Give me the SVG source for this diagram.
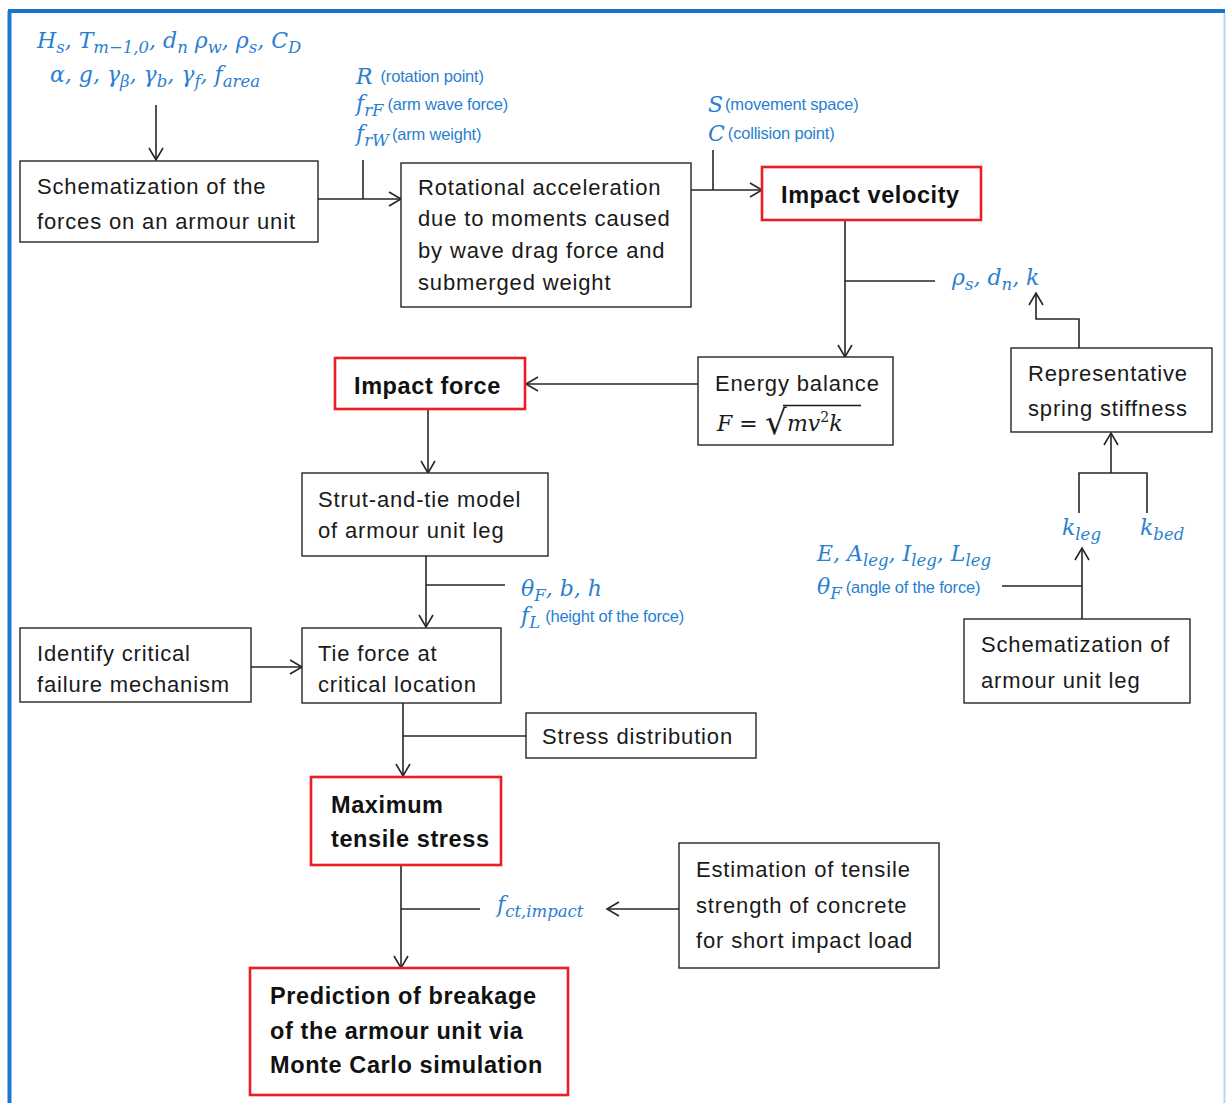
<svg xmlns="http://www.w3.org/2000/svg" width="1226" height="1103" viewBox="0 0 1226 1103">
  <defs>
    <marker id="arr" markerUnits="userSpaceOnUse" markerWidth="16" markerHeight="18" viewBox="0 0 16 18" refX="14" refY="9" orient="auto">
      <path d="M2,2 L14,9 L2,16" fill="none" stroke="#262626" stroke-width="1.6"/>
    </marker>
  </defs>
  <style>
    .box { fill: #ffffff; stroke: #262626; stroke-width: 1.4; }
    .red { fill: #ffffff; stroke: #ee1c24; stroke-width: 2.6; }
    .t { font-family: "Liberation Sans", Arial, sans-serif; font-size: 22px; letter-spacing: 0.85px; fill: #1a1a1a; }
    .b { font-family: "Liberation Sans", Arial, sans-serif; font-size: 23.5px; letter-spacing: 0.6px; font-weight: bold; fill: #111111; }
    .m { font-family: "DejaVu Serif", "Liberation Serif", serif; font-style: italic; font-size: 22px; fill: #2a80d0; }
    .mk { font-family: "DejaVu Serif", "Liberation Serif", serif; font-style: italic; font-size: 22px; fill: #1a1a1a; }
    .up { font-style: normal; }
    .rad { font-style: normal; font-size: 34px; }
    .sup { font-style: normal; font-size: 14px; }
    .sub { font-size: 16.5px; }
    .s { font-family: "Liberation Sans", Arial, sans-serif; font-style: normal; font-size: 16.5px; letter-spacing: -0.2px; fill: #2a80d0; }
    .ln { fill: none; stroke: #262626; stroke-width: 1.6; }
  </style>

  <!-- frame -->
  <rect x="0" y="0" width="1226" height="1103" fill="#ffffff"/>
  <line x1="9.5" y1="11" x2="9.5" y2="1103" stroke="#1a7ad0" stroke-width="4"/>
  <line x1="8" y1="11" x2="1225" y2="11" stroke="#1a74c6" stroke-width="4"/>
  <line x1="1224.5" y1="13" x2="1224.5" y2="1103" stroke="#b9d5ef" stroke-width="2"/>

  <!-- connectors -->
  <g id="connectors">
    <line class="ln" x1="156" y1="105" x2="156" y2="160" marker-end="url(#arr)"/>
    <line class="ln" x1="318" y1="199" x2="401" y2="199" marker-end="url(#arr)"/>
    <line class="ln" x1="363" y1="160" x2="363" y2="199"/>
    <line class="ln" x1="691" y1="190" x2="762" y2="190" marker-end="url(#arr)"/>
    <line class="ln" x1="713" y1="150" x2="713" y2="190"/>
    <line class="ln" x1="845" y1="220" x2="845" y2="357" marker-end="url(#arr)"/>
    <line class="ln" x1="845" y1="281" x2="935" y2="281"/>
    <line class="ln" x1="698" y1="384" x2="526" y2="384" marker-end="url(#arr)"/>
    <line class="ln" x1="428" y1="409" x2="428" y2="473" marker-end="url(#arr)"/>
    <line class="ln" x1="426" y1="556" x2="426" y2="627" marker-end="url(#arr)"/>
    <line class="ln" x1="426" y1="585" x2="505" y2="585"/>
    <line class="ln" x1="251" y1="667" x2="302" y2="667" marker-end="url(#arr)"/>
    <line class="ln" x1="403" y1="703" x2="403" y2="776" marker-end="url(#arr)"/>
    <line class="ln" x1="403" y1="736" x2="526" y2="736"/>
    <line class="ln" x1="401" y1="865" x2="401" y2="968" marker-end="url(#arr)"/>
    <line class="ln" x1="401" y1="909" x2="480" y2="909"/>
    <line class="ln" x1="679" y1="909" x2="607" y2="909" marker-end="url(#arr)"/>
    <polyline class="ln" points="1079,348 1079,319 1036,319 1036,293" marker-end="url(#arr)"/>
    <line class="ln" x1="1111" y1="473" x2="1111" y2="433" marker-end="url(#arr)"/>
    <polyline class="ln" points="1079,513 1079,473 1147,473 1147,513"/>
    <line class="ln" x1="1082" y1="619" x2="1082" y2="548" marker-end="url(#arr)"/>
    <line class="ln" x1="1002" y1="586" x2="1082" y2="586"/>
  </g>

  <!-- input parameters -->
  <g id="inputs-top">
    <text class="m" x="37" y="48">H<tspan class="sub" dy="5">s</tspan><tspan dy="-5">, T</tspan><tspan class="sub" dy="5">m−1,0</tspan><tspan dy="-5">, d</tspan><tspan class="sub" dy="5">n</tspan><tspan dy="-5"> ρ</tspan><tspan class="sub" dy="5">w</tspan><tspan dy="-5">, ρ</tspan><tspan class="sub" dy="5">s</tspan><tspan dy="-5">, C</tspan><tspan class="sub" dy="5">D</tspan></text>
    <text class="m" x="50" y="82">α, g, γ<tspan class="sub" dy="5">β</tspan><tspan dy="-5">, γ</tspan><tspan class="sub" dy="5">b</tspan><tspan dy="-5">, γ</tspan><tspan class="sub" dy="5">f</tspan><tspan dy="-5">, f</tspan><tspan class="sub" dy="5">area</tspan></text>
  </g>
  <g id="inputs-rotation">
    <text class="m" x="356" y="84">R<tspan class="s" dx="8" dy="-2">(rotation point)</tspan></text>
    <text class="m" x="356" y="111">f<tspan class="sub" dy="5">rF</tspan><tspan class="s" dx="4" dy="-6">(arm wave force)</tspan></text>
    <text class="m" x="356" y="141">f<tspan class="sub" dy="5">rW</tspan><tspan class="s" dx="3" dy="-6">(arm weight)</tspan></text>
  </g>
  <g id="inputs-velocity">
    <text class="m" x="708" y="112">S<tspan class="s" dx="2" dy="-2">(movement space)</tspan></text>
    <text class="m" x="708" y="141">C<tspan class="s" dx="3" dy="-2">(collision point)</tspan></text>
  </g>
  <g id="inputs-energy">
    <text class="m" x="952" y="285">ρ<tspan class="sub" dy="5">s</tspan><tspan dy="-5">, d</tspan><tspan class="sub" dy="5">n</tspan><tspan dy="-5">, k</tspan></text>
  </g>
  <g id="inputs-strut">
    <text class="m" x="521" y="596">θ<tspan class="sub" dy="5">F</tspan><tspan dy="-5">, b, h</tspan></text>
    <text class="m" x="521" y="623">f<tspan class="sub" dy="5">L</tspan><tspan class="s" dx="5" dy="-6">(height of the force)</tspan></text>
  </g>
  <g id="inputs-leg">
    <text class="m" x="817" y="561">E, A<tspan class="sub" dy="5">leg</tspan><tspan dy="-5">, I</tspan><tspan class="sub" dy="5">leg</tspan><tspan dy="-5">, L</tspan><tspan class="sub" dy="5">leg</tspan></text>
    <text class="m" x="817" y="594">θ<tspan class="sub" dy="5">F</tspan><tspan class="s" dx="4" dy="-6">(angle of the force)</tspan></text>
  </g>
  <g id="k-leg"><text class="m" x="1062" y="535">k<tspan class="sub" dy="5">leg</tspan></text></g>
  <g id="k-bed"><text class="m" x="1140" y="535">k<tspan class="sub" dy="5">bed</tspan></text></g>
  <g id="f-ct-impact"><text class="m" x="497" y="912">f<tspan class="sub" dy="5">ct,impact</tspan></text></g>

  <!-- process nodes -->
  <g id="schematization-forces">
    <rect class="box" x="20" y="161" width="298" height="81"/>
    <text class="t" x="37" y="194">Schematization of the</text>
    <text class="t" x="37" y="229">forces on an armour unit</text>
  </g>
  <g id="rotational-acceleration">
    <rect class="box" x="401" y="163" width="290" height="144"/>
    <text class="t" x="418" y="195">Rotational acceleration</text>
    <text class="t" x="418" y="226">due to moments caused</text>
    <text class="t" x="418" y="258">by wave drag force and</text>
    <text class="t" x="418" y="290">submerged weight</text>
  </g>
  <g id="impact-velocity">
    <rect class="red" x="762" y="167" width="219" height="53"/>
    <text class="b" x="781" y="203">Impact velocity</text>
  </g>
  <g id="energy-balance">
    <rect class="box" x="698" y="357" width="195" height="88"/>
    <text class="t" x="715" y="391">Energy balance</text>
    <text class="mk" x="717" y="431">F <tspan class="up">=</tspan></text>
    <text class="mk rad" x="765" y="434">√</text>
    <line x1="783" y1="405.5" x2="861" y2="405.5" stroke="#1a1a1a" stroke-width="1.4"/>
    <text class="mk" x="787" y="431">mv<tspan class="sup" dy="-9">2</tspan><tspan dy="9">k</tspan></text>
  </g>
  <g id="impact-force">
    <rect class="red" x="335" y="358" width="190" height="51"/>
    <text class="b" x="354" y="394">Impact force</text>
  </g>
  <g id="strut-and-tie">
    <rect class="box" x="302" y="473" width="246" height="83"/>
    <text class="t" x="318" y="507">Strut-and-tie model</text>
    <text class="t" x="318" y="538">of armour unit leg</text>
  </g>
  <g id="failure-mechanism">
    <rect class="box" x="20" y="628" width="231" height="74"/>
    <text class="t" x="37" y="661">Identify critical</text>
    <text class="t" x="37" y="692">failure mechanism</text>
  </g>
  <g id="tie-force">
    <rect class="box" x="302" y="628" width="199" height="75"/>
    <text class="t" x="318" y="661">Tie force at</text>
    <text class="t" x="318" y="692">critical location</text>
  </g>
  <g id="stress-distribution">
    <rect class="box" x="526" y="713" width="230" height="45"/>
    <text class="t" x="542" y="744">Stress distribution</text>
  </g>
  <g id="maximum-tensile-stress">
    <rect class="red" x="311" y="777" width="190" height="88"/>
    <text class="b" x="331" y="813">Maximum</text>
    <text class="b" x="331" y="847">tensile stress</text>
  </g>
  <g id="tensile-strength">
    <rect class="box" x="679" y="843" width="260" height="125"/>
    <text class="t" x="696" y="877">Estimation of tensile</text>
    <text class="t" x="696" y="913">strength of concrete</text>
    <text class="t" x="696" y="948">for short impact load</text>
  </g>
  <g id="breakage-prediction">
    <rect class="red" x="250" y="968" width="318" height="127"/>
    <text class="b" x="270" y="1004">Prediction of breakage</text>
    <text class="b" x="270" y="1039">of the armour unit via</text>
    <text class="b" x="270" y="1073">Monte Carlo simulation</text>
  </g>
  <g id="spring-stiffness">
    <rect class="box" x="1011" y="348" width="201" height="84"/>
    <text class="t" x="1028" y="381">Representative</text>
    <text class="t" x="1028" y="416">spring stiffness</text>
  </g>
  <g id="schematization-leg">
    <rect class="box" x="964" y="619" width="226" height="84"/>
    <text class="t" x="981" y="652">Schematization of</text>
    <text class="t" x="981" y="688">armour unit leg</text>
  </g>
</svg>
